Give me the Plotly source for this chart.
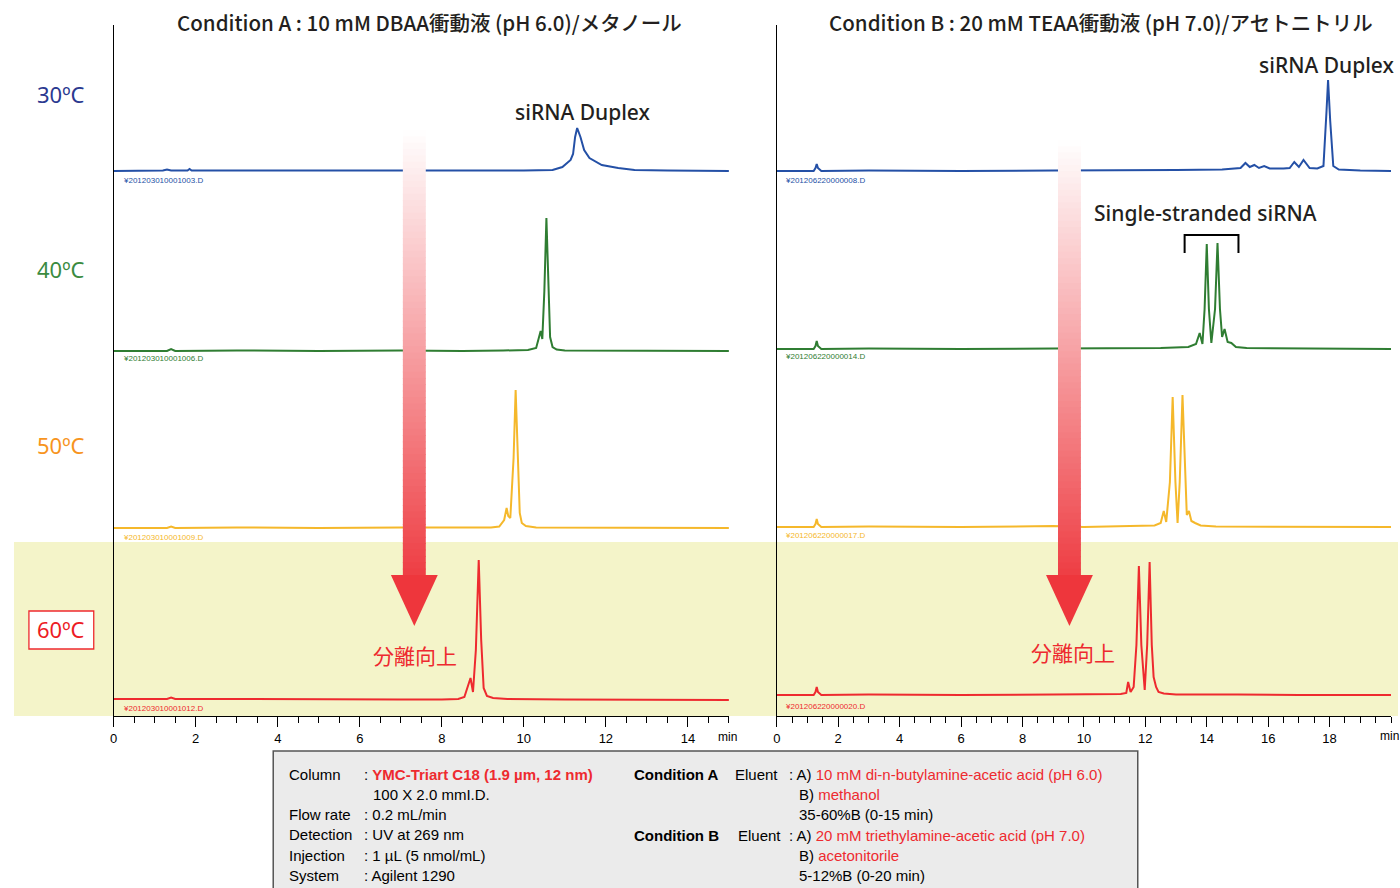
import plotly.graph_objects as go

W, H = 1400, 888

# ---------------- data (retention time in min, signal in arbitrary units) ----------------
T_A30 = [0, 0.8, 1.2, 1.3, 1.4, 1.8, 1.85, 1.9, 3.0, 4.5, 6.0, 7.5, 9.0, 10.0, 10.7, 10.94, 11.14, 11.2, 11.25, 11.3, 11.38, 11.47, 11.6, 11.9, 12.3, 12.7, 13.5, 14.5, 15.0]
S_A30 = [0, 0, 0.5, 1.5, 0.5, 0.5, 2, 0.5, 0.5, 0, 0.5, 0, 0.5, 0.5, 1, 4, 11, 17, 34, 43, 34, 21, 13, 6, 3, 1, 0.5, 0, 0]

T_A40 = [0, 1.3, 1.4, 1.5, 3, 5, 7, 8.5, 9.5, 10.1, 10.3, 10.37, 10.41, 10.45, 10.5, 10.55, 10.6, 10.64, 10.7, 10.8, 11.0, 12, 13.5, 15]
S_A40 = [0, 0, 2, 0, 0.5, 0, 0.5, 0, 0.5, 1, 3, 14, 20, 12, 60, 133, 60, 14, 4, 1.5, 0.5, 0.3, 0, 0]

T_A50 = [0, 1.3, 1.4, 1.5, 3, 5, 7, 8.5, 9.2, 9.4, 9.52, 9.58, 9.62, 9.67, 9.75, 9.8, 9.85, 9.9, 9.95, 10.05, 10.3, 12, 15]
S_A50 = [0, 0, 1.5, 0, 0.5, 0, 0.5, 0, 0.5, 1.5, 8, 20, 12, 10, 70, 138, 70, 15, 5, 2, 0.5, 0.3, 0]

T_A60 = [0, 1.3, 1.4, 1.5, 3, 5, 7, 8.0, 8.4, 8.55, 8.65, 8.7, 8.76, 8.83, 8.9, 8.96, 9.02, 9.1, 9.25, 9.6, 11, 13, 15]
S_A60 = [1, 1, 2.5, 1, 1, 0.5, 0.5, 0.5, 1, 3, 15, 22, 8, 50, 140, 60, 12, 4, 2, 1, 0.5, 0, 0]

T_B30 = [0, 1.2, 1.26, 1.3, 1.34, 1.45, 3, 6, 9, 11, 13, 14.5, 15.1, 15.26, 15.4, 15.55, 15.7, 15.87, 16.05, 16.5, 16.7, 16.85, 17.0, 17.15, 17.35, 17.6, 17.8, 17.9, 17.95, 18.02, 18.12, 18.3, 19, 20]
S_B30 = [0, 0, 3, 7, 3, 0, 0.5, 0, 0.5, 0.5, 1, 1.5, 3, 8, 4, 6, 3, 5, 2.5, 2.5, 3, 9, 4, 11, 3, 2.5, 5, 60, 91, 50, 5, 1.5, 0.5, 0]

T_B40 = [0, 1.2, 1.26, 1.3, 1.34, 1.45, 3, 6, 9, 11, 12.5, 13.4, 13.65, 13.77, 13.86, 13.93, 14.0, 14.07, 14.15, 14.27, 14.35, 14.43, 14.5, 14.58, 14.68, 14.8, 14.95, 15.3, 17, 20]
S_B40 = [0, 0, 3, 8, 3, 0, 0.5, 0, 0.5, 0.5, 1, 2, 5, 16, 5, 40, 105, 40, 6, 40, 106, 40, 12, 20, 7, 6, 2, 1, 0.5, 0]

T_B50 = [0, 1.2, 1.26, 1.3, 1.34, 1.45, 3, 6, 9, 10, 11.5, 12.3, 12.5, 12.6, 12.68, 12.8, 12.89, 12.98, 13.05, 13.12, 13.21, 13.3, 13.35, 13.42, 13.5, 13.62, 13.8, 14.3, 17, 20]
S_B50 = [0, 0, 3, 8, 3, 0, 0.5, 0, 1, 0, 1, 1.5, 4, 16, 5, 45, 130, 45, 4, 45, 132, 40, 12, 16, 6, 4, 1.5, 0.5, 0, 0]

T_B60 = [0, 1.2, 1.26, 1.3, 1.34, 1.45, 3, 6, 9, 10.5, 11.2, 11.38, 11.44, 11.52, 11.62, 11.71, 11.79, 11.87, 11.98, 12.06, 12.14, 12.21, 12.27, 12.35, 12.43, 12.6, 13.0, 15, 17, 20]
S_B60 = [0, 0, 3, 8, 3, 0, 0.5, 0, 0.5, 0.5, 1, 2, 13, 3, 8, 50, 129, 50, 5, 50, 133, 50, 18, 8, 3, 1.5, 0.5, 0.5, 0, 0]

# vertical offsets (stacking) of each chromatogram
OFFSETS_A = [545, 365, 188, 16]
OFFSETS_B = [545, 367, 189, 21]

TEMPS = ["30ºC", "40ºC", "50ºC", "60ºC"]
FILES_A = ["¥201203010001003.D", "¥201203010001006.D", "¥201203010001009.D", "¥201203010001012.D"]
FILES_B = ["¥201206220000008.D", "¥201206220000014.D", "¥201206220000017.D", "¥201206220000020.D"]

TICKS_A = [0, 2, 4, 6, 8, 10, 12, 14]
TICKS_B = [0, 2, 4, 6, 8, 10, 12, 14, 16, 18]

TITLE_A = "Condition A : 10 mM DBAA衝動液 (pH 6.0)/メタノール"
TITLE_B = "Condition B : 20 mM TEAA衝動液 (pH 7.0)/アセトニトリル"

# ---------------- styling ----------------
TRACE_COLORS = ["#2450a6", "#2f7d32", "#f5b82b", "#ee2a2f"]
TEMP_COLORS = ["#2b3990", "#3b8b3f", "#f7941d", "#ed1c24"]
RED = "#ee2a2f"
CJK = "Noto Sans CJK JP"
SANS = "Liberation Sans"


def PX(x):
    return x / W


def PY(y):
    return 1 - y / H


fig = go.Figure()

series_A = [(T_A30, S_A30), (T_A40, S_A40), (T_A50, S_A50), (T_A60, S_A60)]
series_B = [(T_B30, S_B30), (T_B40, S_B40), (T_B50, S_B50), (T_B60, S_B60)]

for i, (t, s) in enumerate(series_A):
    fig.add_trace(go.Scatter(x=t, y=[v + OFFSETS_A[i] for v in s], mode="lines",
                             line=dict(color=TRACE_COLORS[i], width=2), xaxis="x", yaxis="y",
                             showlegend=False, hoverinfo="skip"))
for i, (t, s) in enumerate(series_B):
    fig.add_trace(go.Scatter(x=t, y=[v + OFFSETS_B[i] for v in s], mode="lines",
                             line=dict(color=TRACE_COLORS[i], width=2), xaxis="x2", yaxis="y2",
                             showlegend=False, hoverinfo="skip"))

ydom = [PY(716), PY(25)]
axis_common = dict(showline=True, linecolor="black", linewidth=1.2, showgrid=False, zeroline=False,
                   ticks="outside", ticklen=10, tickwidth=1, tickcolor="black",
                   tickfont=dict(family=SANS, size=13, color="black"),
                   minor=dict(tickmode="linear", tick0=0, dtick=0.5, ticks="outside", ticklen=6,
                              tickwidth=1, tickcolor="black"))
fig.update_layout(
    width=W, height=H, autosize=False,
    margin=dict(l=0, r=0, t=0, b=0),
    paper_bgcolor="white", plot_bgcolor="rgba(0,0,0,0)",
    xaxis=dict(domain=[PX(110), PX(727)], range=[0, 15], anchor="y",
               tickmode="array", tickvals=TICKS_A, **axis_common),
    xaxis2=dict(domain=[PX(775), PX(1391)], range=[0, 20], anchor="y2",
                tickmode="array", tickvals=TICKS_B, **axis_common),
    yaxis=dict(domain=ydom, range=[0, 691], anchor="x", showline=True, linecolor="black", linewidth=1.2,
               showgrid=False, zeroline=False, showticklabels=False, ticks=""),
    yaxis2=dict(domain=ydom, range=[0, 691], anchor="x2", showline=True, linecolor="black", linewidth=1.2,
                showgrid=False, zeroline=False, showticklabels=False, ticks=""),
)

shapes = []
# highlight band for 60 C row
shapes.append(dict(type="rect", xref="paper", yref="paper", x0=PX(10), x1=PX(1398), y0=PY(716), y1=PY(542),
                   fillcolor="#f4f4c9", line=dict(width=0), layer="below"))
# 60 C label box
shapes.append(dict(type="rect", xref="paper", yref="paper", x0=PX(25), x1=PX(90), y0=PY(649), y1=PY(611),
                   fillcolor="white", line=dict(color=RED, width=1.3), layer="above"))
# bracket
shapes.append(dict(type="path", xref="paper", yref="paper",
                   path=f"M {PX(1184)},{PY(253)} L {PX(1184)},{PY(235)} L {PX(1238)},{PY(235)} L {PX(1238)},{PY(253)}",
                   line=dict(color="black", width=2), layer="above"))


def add_arrow(cx, y_top, y_head, y_tip, shaft_half=11.5, head_half=23.5, n=70):
    c0 = (255, 255, 255)
    c1 = (238, 62, 68)
    step = (y_head - y_top) / n
    for k in range(n):
        f = (k + 0.5) / n
        col = tuple(int(round(c0[j] + (c1[j] - c0[j]) * f)) for j in range(3))
        ya = y_top + k * step
        yb = ya + step + 0.8
        shapes.append(dict(type="rect", xref="paper", yref="paper",
                           x0=PX(cx - shaft_half), x1=PX(cx + shaft_half), y0=PY(yb), y1=PY(ya),
                           fillcolor=f"rgb{col}", line=dict(width=0), layer="above"))
    shapes.append(dict(type="path", xref="paper", yref="paper",
                       path=f"M {PX(cx - head_half)},{PY(y_head)} L {PX(cx + head_half)},{PY(y_head)} L {PX(cx)},{PY(y_tip)} Z",
                       fillcolor="#ee363c", line=dict(width=0), layer="above"))


add_arrow(411.5, 130, 575, 626)
add_arrow(1068.5, 140, 575, 626)

fig.update_layout(shapes=shapes)

ann = []


def text(x, y, s, size=15, color="black", family=SANS, xanchor="left", yanchor="middle", weight="normal"):
    ann.append(dict(x=PX(x), y=PY(y), xref="paper", yref="paper", text=s, showarrow=False,
                    xanchor=xanchor, yanchor=yanchor,
                    font=dict(family=family, size=size, color=color, weight=weight)))


# titles
text(427, 22, TITLE_A, size=20.5, color="#231f20", family=CJK, xanchor="center", weight=500)
text(1100, 22, TITLE_B, size=20.5, color="#231f20", family=CJK, xanchor="center", weight=500)

# temperature labels
for i, (lbl, y) in enumerate(zip(TEMPS, [94, 269, 445, 629])):
    text(57, y, lbl, size=22, color=TEMP_COLORS[i], family="Noto Sans", xanchor="center")

# file labels
for i, y in enumerate([180, 358, 537, 708]):
    text(117, y, FILES_A[i], size=8, color=TRACE_COLORS[i])
for i, y in enumerate([180, 357, 535, 706]):
    text(781, y, FILES_B[i], size=8, color=TRACE_COLORS[i])

# peak labels
text(581, 112, "siRNA Duplex", size=21, color="#231f20", family="Noto Sans", xanchor="center", weight=500)
text(1327, 65, "siRNA Duplex", size=21, color="#231f20", family="Noto Sans", xanchor="center", weight=500)
text(1205, 213, "Single-stranded siRNA", size=21, color="#231f20", family="Noto Sans", xanchor="center", weight=500)
text(412, 655, "分離向上", size=21, color=RED, family=CJK, xanchor="center")
text(1072, 652, "分離向上", size=21, color=RED, family=CJK, xanchor="center")

# axis unit labels
text(714, 737, "min", size=12)
text(1378, 736, "min", size=12)

fig.update_layout(annotations=ann)

# info box
fig.add_shape(type="rect", xref="paper", yref="paper", x0=PX(270), x1=PX(1137), y0=PY(900), y1=PY(751),
              fillcolor="#ebebeb", line=dict(color="#555555", width=1.5), layer="above")

R = lambda s: f"<span style='color:{RED}'>{s}</span>"
info = [
    (284, 774, "Column"), (359, 774, ": " + f"<b><span style='color:{RED}'>YMC-Triart C18 (1.9 µm, 12 nm)</span></b>"),
    (368, 794, "100 X 2.0 mmI.D."),
    (284, 814, "Flow rate"), (359, 814, ": 0.2 mL/min"),
    (284, 834, "Detection"), (359, 834, ": UV at 269 nm"),
    (284, 855, "Injection"), (359, 855, ": 1 µL (5 nmol/mL)"),
    (284, 875, "System"), (359, 875, ": Agilent 1290"),
    (630, 774, "<b>Condition A</b>"), (731, 774, "Eluent"), (785, 774, ": A) " + R("10 mM di-n-butylamine-acetic acid (pH 6.0)")),
    (795, 794, "B) " + R("methanol")),
    (795, 814, "35-60%B (0-15 min)"),
    (630, 835, "<b>Condition B</b>"), (734, 835, "Eluent"), (785, 835, ": A) " + R("20 mM triethylamine-acetic acid (pH 7.0)")),
    (795, 855, "B) " + R("acetonitorile")),
    (795, 875, "5-12%B (0-20 min)"),
]
for x, y, s in info:
    fig.add_annotation(x=PX(x), y=PY(y), xref="paper", yref="paper", text=s, showarrow=False,
                       xanchor="left", yanchor="middle", font=dict(family=SANS, size=15, color="black"))

fig.write_html("out.html", config={"displayModeBar": False},
               post_script=("document.body.style.margin='0';document.body.style.overflow='hidden';"
                            "var d=document.getElementById('{plot_id}');d.style.position='absolute';"
                            "d.style.left='0px';d.style.top='0px';"))
